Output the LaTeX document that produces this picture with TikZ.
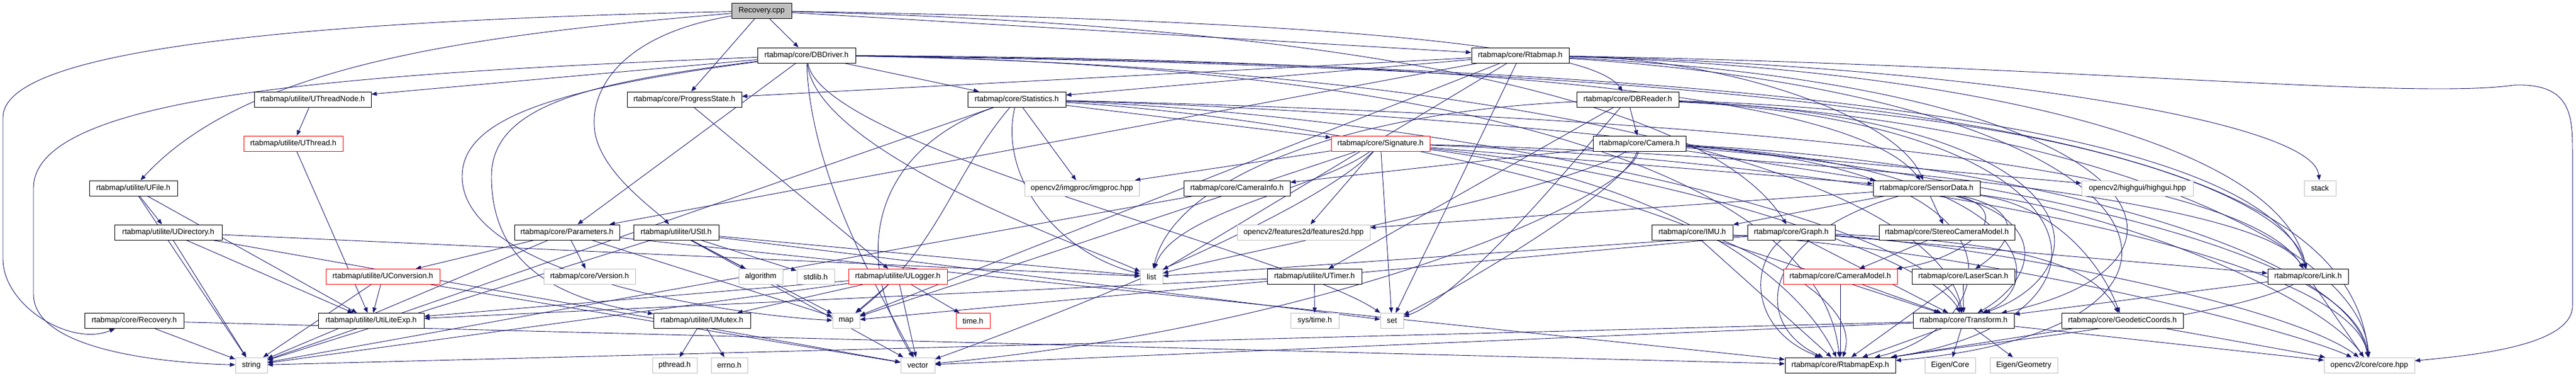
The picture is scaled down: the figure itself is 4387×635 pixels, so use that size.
\documentclass[tikz,border=0pt]{standalone}
\usepackage{fontspec}
\setmainfont{Liberation Sans}
\usetikzlibrary{arrows.meta}
\definecolor{edgecol}{RGB}{25,25,112}
\definecolor{grayb}{RGB}{191,191,191}
\pgfdeclarelayer{bg}
\pgfsetlayers{bg,main}
\tikzset{
  nbase/.style={rectangle, minimum height=26pt, inner sep=0pt, font=\fontsize{13}{15}\selectfont, fill=white, line width=1pt},
  blk/.style={nbase, draw=black},
  gry/.style={nbase, draw=grayb},
  redb/.style={nbase, draw=red},
  dep/.style={draw=edgecol, line width=0.9pt, -{Triangle[length=9pt,width=7pt]}},
}
\newcommand{\crv}[4]{\draw[dep] (#1) .. controls (#3) and (#4) .. (#2);}
\begin{document}
\begin{tikzpicture}[x=1pt,y=-1pt]
\useasboundingbox (0,0) rectangle (4387,635);
% row 0
\node[blk, fill=grayb, minimum width=102] (cpp) at (1297,18.5) {Recovery.cpp};
% row 1
\node[blk, minimum width=167] (dbdriver) at (1373.5,94) {rtabmap/core/DBDriver.h};
\node[blk, minimum width=166] (rtabmaph) at (2589,94) {rtabmap/core/Rtabmap.h};
% row 2
\node[blk, minimum width=199] (uthreadnode) at (532.5,169) {rtabmap/utilite/UThreadNode.h};
\node[blk, minimum width=195] (progress) at (1165.5,169) {rtabmap/core/ProgressState.h};
\node[blk, minimum width=167] (statistics) at (1731.5,169) {rtabmap/core/Statistics.h};
\node[blk, minimum width=174] (dbreader) at (2772,169) {rtabmap/core/DBReader.h};
% row 3
\node[redb, minimum width=169] (uthread) at (499.5,244) {rtabmap/utilite/UThread.h};
\node[redb, minimum width=168] (signature) at (2351,244) {rtabmap/core/Signature.h};
\node[blk, minimum width=158] (camera) at (2792,244) {rtabmap/core/Camera.h};
% row 4
\node[blk, minimum width=150] (ufile) at (227,320) {rtabmap/utilite/UFile.h};
\node[gry, minimum width=195] (imgproc) at (1842.5,320) {opencv2/imgproc/imgproc.hpp};
\node[blk, minimum width=181] (camerainfo) at (2106.5,320) {rtabmap/core/CameraInfo.h};
\node[blk, minimum width=182] (sensordata) at (3281,320) {rtabmap/core/SensorData.h};
\node[gry, minimum width=190] (highgui) at (3640,320) {opencv2/highgui/highgui.hpp};
\node[gry, minimum width=54] (nstack) at (3951,320) {stack};
% row 5
\node[blk, minimum width=183] (udirectory) at (286.5,395) {rtabmap/utilite/UDirectory.h};
\node[blk, minimum width=179] (parameters) at (965.5,395) {rtabmap/core/Parameters.h};
\node[blk, minimum width=145] (ustl) at (1151.5,395) {rtabmap/utilite/UStl.h};
\node[gry, minimum width=226] (features2d) at (2220,395) {opencv2/features2d/features2d.hpp};
\node[blk, minimum width=138] (imu) at (2882,395) {rtabmap/core/IMU.h};
\node[blk, minimum width=149] (graph) at (3050.5,395) {rtabmap/core/Graph.h};
\node[blk, minimum width=231] (stereo) at (3315.5,395) {rtabmap/core/StereoCameraModel.h};
% row 6
\node[redb, minimum width=194] (uconversion) at (652,470.5) {rtabmap/utilite/UConversion.h};
\node[gry, minimum width=156] (version) at (1004,470.5) {rtabmap/core/Version.h};
\node[gry, minimum width=75] (algorithm) at (1295.5,470.5) {algorithm};
\node[gry, minimum width=64] (stdlib) at (1389,470.5) {stdlib.h};
\node[redb, minimum width=168] (ulogger) at (1529,470.5) {rtabmap/utilite/ULogger.h};
\node[gry, minimum width=38] (nlist) at (1961,470.5) {list};
\node[blk, minimum width=161] (utimer) at (2238.5,470.5) {rtabmap/utilite/UTimer.h};
\node[redb, minimum width=194] (cameramodel) at (3134,470.5) {rtabmap/core/CameraModel.h};
\node[blk, minimum width=175] (laserscan) at (3343.5,470.5) {rtabmap/core/LaserScan.h};
\node[blk, minimum width=137] (linkh) at (3930.5,470.5) {rtabmap/core/Link.h};
% row 7
\node[blk, minimum width=169] (recoveryh) at (228.5,545.5) {rtabmap/core/Recovery.h};
\node[blk, minimum width=180] (utiliteexp) at (632,545.5) {rtabmap/utilite/UtiLiteExp.h};
\node[blk, minimum width=165] (umutex) at (1195.5,545.5) {rtabmap/utilite/UMutex.h};
\node[gry, minimum width=46] (nmap) at (1441,545.5) {map};
\node[redb, minimum width=58] (timeh) at (1657,545.5) {time.h};
\node[gry, minimum width=82] (systime) at (2239,545.5) {sys/time.h};
\node[gry, minimum width=39] (nset) at (2370.5,545.5) {set};
\node[blk, minimum width=172] (transform) at (3344,545.5) {rtabmap/core/Transform.h};
\node[blk, minimum width=207] (geodetic) at (3614.5,545.5) {rtabmap/core/GeodeticCoords.h};
% row 8
\node[gry, minimum width=54] (nstring) at (428,621) {string};
\node[gry, minimum width=76] (pthread) at (1149,621) {pthread.h};
\node[gry, minimum width=62] (errno) at (1242,621) {errno.h};
\node[gry, minimum width=58] (nvector) at (1563,621) {vector};
\node[blk, minimum width=188] (rtabmapexp) at (3134,621) {rtabmap/core/RtabmapExp.h};
\node[gry, minimum width=86] (eigencore) at (3321,621) {Eigen/Core};
\node[gry, minimum width=115] (eigengeom) at (3446.5,621) {Eigen/Geometry};
\node[gry, minimum width=154] (corehpp) at (4035,621) {opencv2/core/core.hpp};

\begin{pgfonlayer}{bg}
% curved edges
\draw[dep] (cpp) .. controls (300,40) and (5,110) .. (5,200) -- (5,440) .. controls (5,520) and (120,590) .. (recoveryh);
\crv{cpp}{ufile}{800,60}{420,110}
\draw[dep] (cpp) .. controls (1050,60) and (1000,160) .. (1014,230) .. controls (1030,300) and (1120,360) .. (ustl);
\draw[dep] (dbdriver) .. controls (600,125) and (57,160) .. (57,320) -- (57,500) .. controls (57,600) and (300,618) .. (nstring);
\draw[dep] (dbdriver) .. controls (950,150) and (787,200) .. (787,300) .. controls (787,480) and (1300,540) .. (nmap);
\draw[dep] (dbdriver) .. controls (1000,140) and (837,180) .. (837,300) .. controls (837,450) and (950,510) .. (umutex);
\draw[dep] (rtabmaph) .. controls (3500,110) and (4100,170) .. (4280,145) .. controls (4381,140) and (4381,200) .. (4381,260) -- (4381,520) .. controls (4381,590) and (4200,605) .. (corehpp);
\crv{cpp}{dbreader}{2000,30}{2700,60}
\crv{cpp}{graph}{2200,40}{2900,150}
% dbdriver long bundle
\crv{dbdriver}{sensordata}{2400,100}{3150,150}
\crv{dbdriver}{linkh}{2900,110}{3850,200}
\crv{dbdriver}{corehpp}{3300,120}{4000,250}
\crv{dbdriver}{rtabmapexp}{2500,110}{3100,300}
\crv{dbdriver}{transform}{2600,115}{3300,300}
\crv{dbdriver}{nlist}{1390,260}{1850,420}
\crv{dbdriver}{nset}{1400,250}{2200,430}
\crv{dbdriver}{nvector}{1380,300}{1500,500}
% rtabmap bundle
\crv{rtabmaph}{linkh}{3300,115}{3880,230}
\crv{rtabmaph}{nstack}{3300,110}{3940,200}
\crv{rtabmaph}{sensordata}{2950,100}{3230,200}
\crv{rtabmaph}{transform}{3700,150}{3800,450}
\crv{rtabmaph}{rtabmapexp}{3750,170}{3850,560}
% statistics
\crv{statistics}{nvector}{1500,250}{1440,420}
\crv{statistics}{nmap}{1620,300}{1600,420}
\crv{statistics}{nlist}{1700,300}{1800,430}
\crv{statistics}{linkh}{2600,190}{3800,250}
\crv{statistics}{corehpp}{2800,200}{4000,350}
\crv{statistics}{transform}{2500,200}{3300,380}
\crv{statistics}{rtabmapexp}{2400,210}{3200,420}
% signature
\crv{signature}{nlist}{2250,320}{2000,360}
\crv{signature}{nvector}{2250,350}{1900,500}
\crv{signature}{linkh}{3000,260}{3850,330}
\crv{signature}{corehpp}{3100,270}{4000,420}
\crv{signature}{rtabmapexp}{2800,300}{3050,450}
\crv{signature}{transform}{2900,300}{3300,450}
% camera
\crv{camera}{nvector}{2780,330}{2300,550}
\crv{camera}{nset}{2770,320}{2500,480}
\crv{camera}{nlist}{2650,330}{2100,430}
\crv{camera}{corehpp}{3400,270}{4000,420}
\crv{camera}{rtabmapexp}{3500,290}{3400,560}
\crv{camera}{transform}{3450,280}{3500,480}
% dbreader
\crv{dbreader}{nset}{2700,250}{2500,500}
\crv{dbreader}{nlist}{2300,190}{2000,300}
\crv{dbreader}{corehpp}{3500,200}{4020,400}
\crv{dbreader}{linkh}{3500,190}{3900,330}
\crv{dbreader}{rtabmapexp}{3600,210}{3650,540}
\crv{dbreader}{transform}{3550,200}{3600,450}
% graph, sensordata
\crv{graph}{corehpp}{3400,420}{3900,520}
\crv{graph}{geodetic}{3400,410}{3560,440}
\crv{sensordata}{geodetic}{3500,350}{3580,450}
\crv{sensordata}{corehpp}{3600,360}{3950,500}
\crv{sensordata}{rtabmapexp}{3000,400}{2980,550}
\crv{sensordata}{transform}{3500,380}{3460,480}
\crv{sensordata}{laserscan}{3460,360}{3420,420}
\crv{sensordata}{cameramodel}{3440,360}{3350,440}
\crv{graph}{rtabmapexp}{2980,450}{2980,560}
\crv{linkh}{rtabmapexp}{3800,540}{3400,580}
\crv{imu}{corehpp}{3400,430}{3900,560}

% straight edges
\foreach \a/\b in {
 cpp/dbdriver, cpp/rtabmaph, cpp/progress,
 recoveryh/rtabmapexp, recoveryh/nstring,
 ufile/udirectory, ufile/nstring, ufile/utiliteexp,
 udirectory/nstring, udirectory/nvector, udirectory/nlist, udirectory/utiliteexp,
 uthreadnode/uthread, uthread/utiliteexp,
 umutex/pthread, umutex/errno,
 uconversion/utiliteexp, uconversion/nstring, uconversion/nvector,
 parameters/rtabmapexp, parameters/version, parameters/uconversion, parameters/nmap, parameters/nstring,
 ustl/nlist, ustl/nmap, ustl/nset, ustl/nvector, ustl/nstring, ustl/algorithm, ustl/stdlib,
 progress/ulogger,
 ulogger/utiliteexp, ulogger/umutex, ulogger/nmap, ulogger/nvector, ulogger/timeh, ulogger/nstring,
 utimer/systime, utimer/utiliteexp,
 dbdriver/uthreadnode, dbdriver/parameters, dbdriver/statistics,
 statistics/signature, statistics/imgproc, statistics/nstring,
 signature/features2d, signature/nset, signature/imgproc, signature/sensordata, signature/nmap,
 camera/camerainfo, camera/sensordata, camera/highgui,
 camerainfo/nstring,
 dbreader/camera, dbreader/utimer,
 rtabmaph/progress, rtabmaph/parameters, rtabmaph/statistics, rtabmaph/nset, rtabmaph/nlist, rtabmaph/nmap,
 graph/nmap, graph/nlist, graph/transform, graph/linkh,
 imu/transform, imu/rtabmapexp,
 linkh/transform, linkh/corehpp,
 geodetic/corehpp, geodetic/rtabmapexp,
 transform/rtabmapexp, transform/nvector, transform/nstring, transform/eigencore, transform/eigengeom, transform/corehpp,
 laserscan/rtabmapexp, laserscan/transform,
 cameramodel/rtabmapexp, cameramodel/transform,
 stereo/cameramodel,
 sensordata/imu, sensordata/stereo, sensordata/features2d}
 { \draw[dep] (\a) -- (\b); }
\end{pgfonlayer}
\end{tikzpicture}
\end{document}
